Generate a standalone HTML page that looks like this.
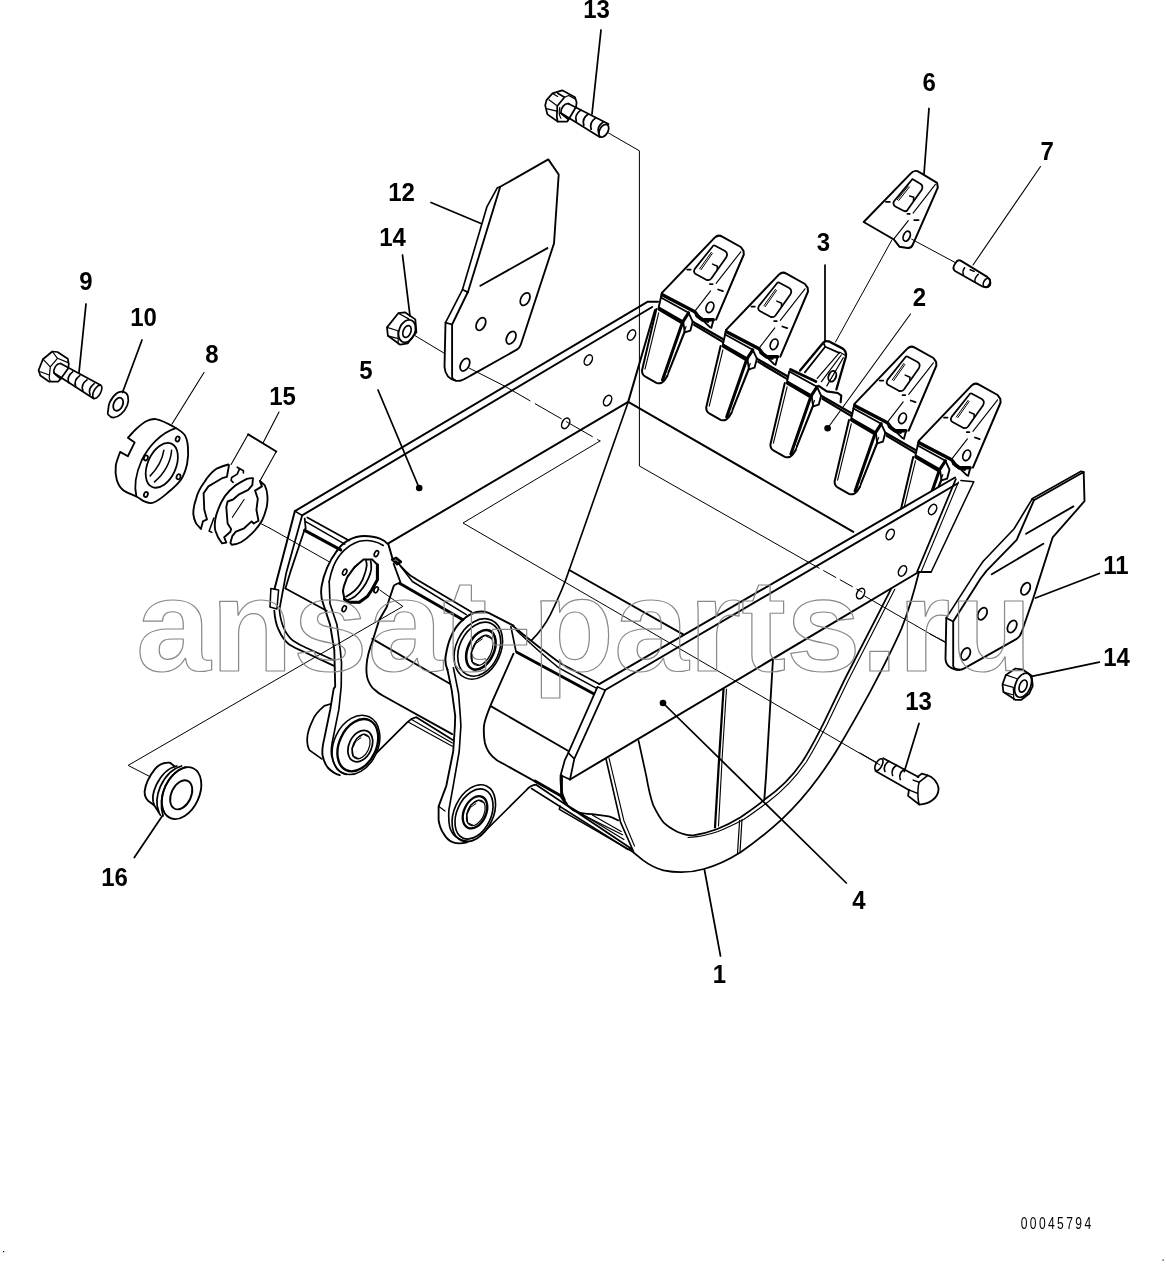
<!DOCTYPE html>
<html><head><meta charset="utf-8"><title>Bucket</title>
<style>
html,body{margin:0;padding:0;background:#fff;}
body{width:1166px;height:1264px;overflow:hidden;font-family:"Liberation Sans",sans-serif;}
svg{display:block;font-family:"Liberation Sans",sans-serif;}
</style></head><body>
<svg style="will-change:transform" width="1166" height="1264" viewBox="0 0 1166 1264" fill="none" stroke="#000" stroke-linecap="round" stroke-linejoin="round">
<rect x="0" y="0" width="1166" height="1264" fill="#fff" stroke="none"/>
<text transform="translate(596.5 18.1) scale(1 1.085)" x="0" y="0" font-size="24" font-weight="bold" text-anchor="middle" fill="#000" stroke="none">13</text>
<text transform="translate(929.1 91.2) scale(1 1.085)" x="0" y="0" font-size="24" font-weight="bold" text-anchor="middle" fill="#000" stroke="none">6</text>
<text transform="translate(1047.2 159.7) scale(1 1.085)" x="0" y="0" font-size="24" font-weight="bold" text-anchor="middle" fill="#000" stroke="none">7</text>
<text transform="translate(401.5 201.0) scale(1 1.085)" x="0" y="0" font-size="24" font-weight="bold" text-anchor="middle" fill="#000" stroke="none">12</text>
<text transform="translate(392.5 246.0) scale(1 1.085)" x="0" y="0" font-size="24" font-weight="bold" text-anchor="middle" fill="#000" stroke="none">14</text>
<text transform="translate(823.5 250.8) scale(1 1.085)" x="0" y="0" font-size="24" font-weight="bold" text-anchor="middle" fill="#000" stroke="none">3</text>
<text transform="translate(919.4 305.6) scale(1 1.085)" x="0" y="0" font-size="24" font-weight="bold" text-anchor="middle" fill="#000" stroke="none">2</text>
<text transform="translate(86.0 290.0) scale(1 1.085)" x="0" y="0" font-size="24" font-weight="bold" text-anchor="middle" fill="#000" stroke="none">9</text>
<text transform="translate(143.5 326.0) scale(1 1.085)" x="0" y="0" font-size="24" font-weight="bold" text-anchor="middle" fill="#000" stroke="none">10</text>
<text transform="translate(212.0 363.0) scale(1 1.085)" x="0" y="0" font-size="24" font-weight="bold" text-anchor="middle" fill="#000" stroke="none">8</text>
<text transform="translate(366.0 378.5) scale(1 1.085)" x="0" y="0" font-size="24" font-weight="bold" text-anchor="middle" fill="#000" stroke="none">5</text>
<text transform="translate(282.5 405.3) scale(1 1.085)" x="0" y="0" font-size="24" font-weight="bold" text-anchor="middle" fill="#000" stroke="none">15</text>
<text transform="translate(1116.0 573.5) scale(1 1.085)" x="0" y="0" font-size="24" font-weight="bold" text-anchor="middle" fill="#000" stroke="none">11</text>
<text transform="translate(1116.5 665.5) scale(1 1.085)" x="0" y="0" font-size="24" font-weight="bold" text-anchor="middle" fill="#000" stroke="none">14</text>
<text transform="translate(918.5 709.5) scale(1 1.085)" x="0" y="0" font-size="24" font-weight="bold" text-anchor="middle" fill="#000" stroke="none">13</text>
<text transform="translate(114.5 886.0) scale(1 1.085)" x="0" y="0" font-size="24" font-weight="bold" text-anchor="middle" fill="#000" stroke="none">16</text>
<text transform="translate(859.0 908.5) scale(1 1.085)" x="0" y="0" font-size="24" font-weight="bold" text-anchor="middle" fill="#000" stroke="none">4</text>
<text transform="translate(719.5 982.5) scale(1 1.085)" x="0" y="0" font-size="24" font-weight="bold" text-anchor="middle" fill="#000" stroke="none">1</text>
<text transform="translate(1020.7 1228.8) scale(0.72 1)" x="0" y="0" font-size="16.8" letter-spacing="3.3" fill="#000" stroke="none">00045794</text>
<rect x="3" y="1251" width="1.2" height="1.2" fill="#000" stroke="none"/><rect x="1162.5" y="1259.5" width="1.2" height="1.2" fill="#000" stroke="none"/>
<path d="M 545.2 105.4 L 546.5 100.2 L 552.5 93.4 L 562.2 90.3 L 575.0 97.3 L 576.6 102.2 L 576.1 106.7 L 568.6 119.5 L 567.3 121.5 L 557.7 121.5 L 547.4 114.4 Z" stroke-width="1.75" />
<path d="M 557.7 93.2 L 564.5 97.3 L 557.3 106.0 L 556.8 117.0 L 557.7 121.5" stroke-width="1.75" />
<path d="M 564.5 97.3 L 568.6 95.5 L 575.0 98.9" stroke-width="1.2" />
<path d="M 549.0 99.8 L 557.3 106.0" stroke-width="1.2" />
<path d="M 546.5 108.6 L 556.8 111.2" stroke-width="1.2" />
<path d="M 552.5 93.4 L 557.7 96.4" stroke-width="1.2" />
<path d="M 568.6 103.7 C 564.7 102.8 560.2 108.6 560.9 113.1 C 562.2 115.0 566.0 117.0 568.6 119.5" stroke-width="1.75" />
<path d="M 559.8 107.3 C 558.9 111.2 558.9 115.0 560.9 118.2" stroke-width="1.2" />
<path d="M 568.6 103.7 L 608.5 124.0" stroke-width="1.75" />
<path d="M 560.9 113.1 L 600.1 137.2" stroke-width="1.75" />
<ellipse cx="603.8" cy="130.7" rx="4.1" ry="6.9" transform="rotate(30 603.8 130.7)" stroke-width="1.75" />
<path d="M 580.8 110.1 C 575.7 113.7 575.0 117.6 576.3 121.5" stroke-width="1.75" />
<path d="M 588.3 114.0 C 583.1 117.6 582.5 121.5 583.8 125.3" stroke-width="1.75" />
<path d="M 595.7 117.9 C 590.6 121.5 589.9 125.3 591.2 129.2" stroke-width="1.75" />
<path d="M 603.2 122.0 C 598.1 125.6 597.4 129.4 598.7 133.3" stroke-width="1.75" />
<path d="M 500.2 186.8 L 548.3 159.4 L 558.7 174.5 L 554.0 243.4 L 520.9 344.3 C 520.0 347.2 519.1 348.1 517.2 349.4 L 471.9 374.9 C 464.3 379.2 460.6 381.7 455.8 380.6 C 453.0 379.8 452.1 378.3 452.1 376.4 L 452.1 324.5 L 468.1 291.5 Z" stroke-width="1.87" />
<path d="M 500.2 186.8 L 497.4 187.7 L 487.0 206.6 L 462.5 289.6 L 468.1 292.5" stroke-width="1.64" />
<path d="M 462.5 289.6 L 445.5 322.6 L 452.1 324.5" stroke-width="1.64" />
<path d="M 445.5 322.6 L 444.5 367.0 C 445.1 374.5 449.2 379.2 455.8 380.6" stroke-width="1.87" />
<path d="M 480.4 285.8 L 547.4 248.1" stroke-width="1.87" />
<ellipse cx="525.1" cy="299.1" rx="4.2" ry="6.8" transform="rotate(28 525.1 299.1)" stroke-width="1.75" />
<ellipse cx="480.9" cy="324.0" rx="4.2" ry="6.8" transform="rotate(28 480.9 324.0)" stroke-width="1.75" />
<ellipse cx="511.1" cy="337.7" rx="4.2" ry="6.8" transform="rotate(28 511.1 337.7)" stroke-width="1.75" />
<ellipse cx="464.9" cy="364.7" rx="4.2" ry="6.8" transform="rotate(28 464.9 364.7)" stroke-width="1.75" />
<path d="M 387.0 327.4 L 398.3 313.2 L 404.9 312.3 L 415.3 319.4 L 416.4 332.1 L 407.7 343.4 L 400.2 344.7 L 387.9 335.8 Z" stroke-width="1.75" />
<path d="M 398.3 313.2 L 408.7 318.9 M 387.9 335.8 L 398.3 338.7 M 387.0 327.4 L 397.9 330.8 L 398.3 344.0" stroke-width="1.2" />
<ellipse cx="407.0" cy="331.1" rx="7.9" ry="11.7" transform="rotate(22 407.0 331.1)" stroke-width="1.75" />
<ellipse cx="407.0" cy="331.5" rx="3.8" ry="6.2" transform="rotate(22 407.0 331.5)" stroke-width="1.64" />
<path d="M415.3 335.8 L444.5 353.4" stroke-width="1.0" />
<path d="M469 368 L504 385.8" stroke-width="1.0" />
<path d="M504 385.8 L600 441" stroke-width="1.0" stroke-dasharray="30 6"/>
<path d="M 863.7 222.0 L 911.1 173.1 C 913.1 170.9 916.6 170.3 919.3 172.2 L 937.1 182.9 L 937.8 187.7 L 912.8 244.7 C 911.7 247.7 910.4 248.3 907.6 248.0 L 899.4 246.7 L 893.9 239.5 Z" stroke-width="1.99" />
<path d="M 935.4 184.3 L 913.1 213.1 M 908.3 220.7 L 893.9 238.9" stroke-width="1.1" />
<path d="M 912.4 179.1 L 920.7 183.9 C 922.5 185.1 922.7 187.7 921.6 190.1 L 907.4 210.1 C 906.3 211.5 904.9 211.5 903.5 210.7 L 895.3 206.5 C 893.2 204.9 892.8 203.2 894.2 201.0 Z" stroke-width="1.75" />
<path d="M 897.3 199.7 L 908.3 186.0 M 898.7 200.5 L 909.4 187.0" stroke-width="1.0" />
<path d="M 909.7 196.0 L 913.8 197.3 L 913.4 200.5" stroke-width="1.52" />
<path d="M 886.0 201.9 L 889.8 201.9 M 907.4 213.8 L 909.8 213.8 M 914.2 220.0 L 918.6 220.0" stroke-width="1.75" />
<ellipse cx="906.7" cy="236.2" rx="3.3" ry="5.2" transform="rotate(22 906.7 236.2)" stroke-width="1.75" />
<path d="M891.9 239.9 L835.5 342" stroke-width="1.0" />
<path d="M911.7 239.2 L955.7 262.8" stroke-width="1.0" />
<path d="M 955.7 262.8 C 957.0 260.5 959.1 259.8 961.1 260.9 L 987.2 276.9 C 990.0 279.0 991.1 281.7 990.0 285.2 C 988.6 287.2 985.8 287.9 982.4 286.5 L 955.0 271.0 C 952.9 269.4 952.9 266.6 955.7 262.8 Z" stroke-width="1.87" />
<path d="M 964.6 267.7 C 962.8 270.1 962.5 272.8 963.6 275.1 M 970.1 269.7 L 974.2 271.4 M 978.3 274.2 C 975.6 276.9 974.2 279.7 975.1 282.0" stroke-width="1.52" />
<ellipse cx="986.7" cy="282.6" rx="3.0" ry="4.7" transform="rotate(30 986.7 282.6)" stroke-width="1.64" />
<path d="M 660.9 297.5 L 688.6 312.8" stroke-width="1.87" />
<path d="M 660.9 297.5 L 658.7 307.3 L 683.1 321.3 L 688.6 312.8" stroke-width="1.87" />
<path d="M 659.1 309.0 L 682.4 322.7" stroke-width="3.51" />
<path d="M 688.6 312.8 L 692.7 321.7 L 690.3 330.7 L 684.8 332.3 L 683.1 321.3" stroke-width="1.87" />
<path d="M 656.4 309.0 L 642.0 370.5 C 642.0 373.9 642.6 375.3 645.4 376.6 L 656.4 382.8 C 659.8 384.2 662.5 382.8 664.6 380.1 L 667.3 375.9" stroke-width="1.99" />
<path d="M 658.7 312.8 L 645.0 369.1" stroke-width="1.1" />
<path d="M 682.4 322.7 L 662.5 380.1" stroke-width="3.04" />
<path d="M 688.6 312.8 L 683.1 321.3 L 682.4 322.7" stroke-width="3.04" />
<path d="M 684.8 332.3 L 667.3 375.9" stroke-width="1.52" />
<path d="M 686.1 326.5 L 668.0 372.5" stroke-width="1.1" />
<path d="M 692.7 321.7 L 723.2 339.2" stroke-width="2.22" />
<path d="M 694.1 324.9 L 722.2 341.6" stroke-width="2.22" />
<path d="M 661.9 292.9 L 714.7 237.6 C 716.7 235.7 719.5 234.9 722.2 236.7 L 740.8 247.0 L 743.5 250.8 L 743.8 254.5 L 716.1 319.7" stroke-width="1.99" />
<path d="M 740.8 251.8 L 716.1 283.3 M 710.6 290.9 L 695.5 310.4" stroke-width="1.1" />
<path d="M 661.9 292.9 L 660.9 297.0" stroke-width="1.87" />
<path d="M 662.3 294.7 L 694.8 311.7 L 698.9 317.2 L 702.3 319.7 L 713.3 319.7" stroke-width="3.51" />
<path d="M 714.7 245.6 L 725.0 251.1 C 727.0 252.4 727.7 254.5 726.3 257.2 L 711.3 278.5 C 709.9 280.2 707.8 280.4 705.8 279.6 L 695.7 274.1 C 693.8 272.8 693.6 271.0 694.8 268.9 L 712.2 247.0 C 713.0 245.6 713.9 245.3 714.7 245.6 Z" stroke-width="1.75" />
<path d="M 699.6 268.9 L 711.3 252.4 M 701.0 269.7 L 712.3 253.5" stroke-width="1.0" />
<path d="M 712.6 264.1 L 717.4 266.2 L 717.2 269.2" stroke-width="1.52" />
<path d="M 687.2 269.6 L 690.7 269.6 M 709.9 284.0 L 712.6 284.0 M 718.1 289.5 L 722.9 291.1" stroke-width="1.75" />
<ellipse cx="709.9" cy="307.3" rx="3.6" ry="5.5" transform="rotate(22 709.9 307.3)" stroke-width="1.75" />
<path d="M 713.3 320.4 L 711.3 327.9 M 703.7 321.1 L 709.9 327.2" stroke-width="1.87" />
<path d="M 696.8 315.6 L 702.3 319.7 L 707.8 321.1" stroke-width="3.51" />
<path d="M 725.1 334.5 L 752.8 349.8" stroke-width="1.87" />
<path d="M 725.1 334.5 L 722.9 344.3 L 747.3 358.3 L 752.8 349.8" stroke-width="1.87" />
<path d="M 723.3 346.0 L 746.6 359.7" stroke-width="3.51" />
<path d="M 752.8 349.8 L 756.9 358.7 L 754.5 367.7 L 749.0 369.3 L 747.3 358.3" stroke-width="1.87" />
<path d="M 720.6 346.0 L 706.2 407.5 C 706.2 410.9 706.8 412.3 709.6 413.6 L 720.6 419.8 C 724.0 421.2 726.7 419.8 728.8 417.1 L 731.5 412.9" stroke-width="1.99" />
<path d="M 722.9 349.8 L 709.2 406.1" stroke-width="1.1" />
<path d="M 746.6 359.7 L 726.7 417.1" stroke-width="3.04" />
<path d="M 752.8 349.8 L 747.3 358.3 L 746.6 359.7" stroke-width="3.04" />
<path d="M 749.0 369.3 L 731.5 412.9" stroke-width="1.52" />
<path d="M 750.3 363.5 L 732.2 409.5" stroke-width="1.1" />
<path d="M 756.9 358.7 L 787.4 376.2" stroke-width="2.22" />
<path d="M 758.3 361.9 L 786.4 378.6" stroke-width="2.22" />
<path d="M 726.1 329.9 L 778.9 274.6 C 780.9 272.7 783.7 271.9 786.4 273.7 L 805.0 284.0 L 807.7 287.8 L 808.0 291.5 L 780.3 356.7" stroke-width="1.99" />
<path d="M 805.0 288.8 L 780.3 320.3 M 774.8 327.9 L 759.7 347.4" stroke-width="1.1" />
<path d="M 726.1 329.9 L 725.1 334.0" stroke-width="1.87" />
<path d="M 726.5 331.7 L 759.0 348.7 L 763.1 354.2 L 766.5 356.7 L 777.5 356.7" stroke-width="3.51" />
<path d="M 778.9 282.6 L 789.2 288.1 C 791.2 289.4 791.9 291.5 790.5 294.2 L 775.5 315.5 C 774.1 317.2 772.0 317.4 770.0 316.6 L 759.9 311.1 C 758.0 309.8 757.8 308.0 759.0 305.9 L 776.4 284.0 C 777.2 282.6 778.1 282.3 778.9 282.6 Z" stroke-width="1.75" />
<path d="M 763.8 305.9 L 775.5 289.4 M 765.2 306.7 L 776.5 290.5" stroke-width="1.0" />
<path d="M 776.8 301.1 L 781.6 303.2 L 781.4 306.2" stroke-width="1.52" />
<path d="M 751.4 306.6 L 754.9 306.6 M 774.1 321.0 L 776.8 321.0 M 782.3 326.5 L 787.1 328.1" stroke-width="1.75" />
<ellipse cx="774.1" cy="344.3" rx="3.6" ry="5.5" transform="rotate(22 774.1 344.3)" stroke-width="1.75" />
<path d="M 777.5 357.4 L 775.5 364.9 M 767.9 358.1 L 774.1 364.2" stroke-width="1.87" />
<path d="M 761.0 352.6 L 766.5 356.7 L 772.0 358.1" stroke-width="3.51" />
<path d="M 789.3 371.5 L 817.0 386.8" stroke-width="1.87" />
<path d="M 789.3 371.5 L 787.1 381.3 L 811.5 395.3 L 817.0 386.8" stroke-width="1.87" />
<path d="M 787.5 383.0 L 810.8 396.7" stroke-width="3.51" />
<path d="M 817.0 386.8 L 821.1 395.7 L 818.7 404.7 L 813.2 406.3 L 811.5 395.3" stroke-width="1.87" />
<path d="M 784.8 383.0 L 770.4 444.5 C 770.4 447.9 771.0 449.3 773.8 450.6 L 784.8 456.8 C 788.2 458.2 790.9 456.8 793.0 454.1 L 795.7 449.9" stroke-width="1.99" />
<path d="M 787.1 386.8 L 773.4 443.1" stroke-width="1.1" />
<path d="M 810.8 396.7 L 790.9 454.1" stroke-width="3.04" />
<path d="M 817.0 386.8 L 811.5 395.3 L 810.8 396.7" stroke-width="3.04" />
<path d="M 813.2 406.3 L 795.7 449.9" stroke-width="1.52" />
<path d="M 814.5 400.5 L 796.4 446.5" stroke-width="1.1" />
<path d="M 821.1 395.7 L 851.6 413.2" stroke-width="2.22" />
<path d="M 822.5 398.9 L 850.6 415.6" stroke-width="2.22" />
<path d="M 853.5 408.5 L 881.2 423.8" stroke-width="1.87" />
<path d="M 853.5 408.5 L 851.3 418.3 L 875.7 432.3 L 881.2 423.8" stroke-width="1.87" />
<path d="M 851.7 420.0 L 875.0 433.7" stroke-width="3.51" />
<path d="M 881.2 423.8 L 885.3 432.7 L 882.9 441.7 L 877.4 443.3 L 875.7 432.3" stroke-width="1.87" />
<path d="M 849.0 420.0 L 834.6 481.5 C 834.6 484.9 835.2 486.3 838.0 487.6 L 849.0 493.8 C 852.4 495.2 855.1 493.8 857.2 491.1 L 859.9 486.9" stroke-width="1.99" />
<path d="M 851.3 423.8 L 837.6 480.1" stroke-width="1.1" />
<path d="M 875.0 433.7 L 855.1 491.1" stroke-width="3.04" />
<path d="M 881.2 423.8 L 875.7 432.3 L 875.0 433.7" stroke-width="3.04" />
<path d="M 877.4 443.3 L 859.9 486.9" stroke-width="1.52" />
<path d="M 878.7 437.5 L 860.6 483.5" stroke-width="1.1" />
<path d="M 885.3 432.7 L 915.8 450.2" stroke-width="2.22" />
<path d="M 886.7 435.9 L 914.8 452.6" stroke-width="2.22" />
<path d="M 854.5 403.9 L 907.3 348.6 C 909.3 346.7 912.1 345.9 914.8 347.7 L 933.4 358.0 L 936.1 361.8 L 936.4 365.5 L 908.7 430.7" stroke-width="1.99" />
<path d="M 933.4 362.8 L 908.7 394.3 M 903.2 401.9 L 888.1 421.4" stroke-width="1.1" />
<path d="M 854.5 403.9 L 853.5 408.0" stroke-width="1.87" />
<path d="M 854.9 405.7 L 887.4 422.7 L 891.5 428.2 L 894.9 430.7 L 905.9 430.7" stroke-width="3.51" />
<path d="M 907.3 356.6 L 917.6 362.1 C 919.6 363.4 920.3 365.5 918.9 368.2 L 903.9 389.5 C 902.5 391.2 900.4 391.4 898.4 390.6 L 888.3 385.1 C 886.4 383.8 886.2 382.0 887.4 379.9 L 904.8 358.0 C 905.6 356.6 906.5 356.3 907.3 356.6 Z" stroke-width="1.75" />
<path d="M 892.2 379.9 L 903.9 363.4 M 893.6 380.7 L 904.9 364.5" stroke-width="1.0" />
<path d="M 905.2 375.1 L 910.0 377.2 L 909.8 380.2" stroke-width="1.52" />
<path d="M 879.8 380.6 L 883.3 380.6 M 902.5 395.0 L 905.2 395.0 M 910.7 400.5 L 915.5 402.1" stroke-width="1.75" />
<ellipse cx="902.5" cy="418.3" rx="3.6" ry="5.5" transform="rotate(22 902.5 418.3)" stroke-width="1.75" />
<path d="M 905.9 431.4 L 903.9 438.9 M 896.3 432.1 L 902.5 438.2" stroke-width="1.87" />
<path d="M 889.4 426.6 L 894.9 430.7 L 900.4 432.1" stroke-width="3.51" />
<path d="M 917.7 445.5 L 945.4 460.8" stroke-width="1.87" />
<path d="M 917.7 445.5 L 915.5 455.3 L 939.9 469.3 L 945.4 460.8" stroke-width="1.87" />
<path d="M 915.9 457.0 L 939.2 470.7" stroke-width="3.51" />
<path d="M 945.4 460.8 L 949.5 469.7 L 947.1 478.7 L 941.6 480.3 L 939.9 469.3" stroke-width="1.87" />
<path d="M 913.2 457.0 L 898.8 518.5 C 898.8 521.9 899.4 523.3 902.2 524.6 L 913.2 530.8 C 916.6 532.2 919.3 530.8 921.4 528.1 L 924.1 523.9" stroke-width="1.99" />
<path d="M 915.5 460.8 L 901.8 517.1" stroke-width="1.1" />
<path d="M 939.2 470.7 L 919.3 528.1" stroke-width="3.04" />
<path d="M 945.4 460.8 L 939.9 469.3 L 939.2 470.7" stroke-width="3.04" />
<path d="M 941.6 480.3 L 924.1 523.9" stroke-width="1.52" />
<path d="M 942.9 474.5 L 924.8 520.5" stroke-width="1.1" />
<path d="M 918.7 440.9 L 971.5 385.6 C 973.5 383.7 976.3 382.9 979.0 384.7 L 997.6 395.0 L 1000.3 398.8 L 1000.6 402.5 L 972.9 467.7" stroke-width="1.99" />
<path d="M 997.6 399.8 L 972.9 431.3 M 967.4 438.9 L 952.3 458.4" stroke-width="1.1" />
<path d="M 918.7 440.9 L 917.7 445.0" stroke-width="1.87" />
<path d="M 919.1 442.7 L 951.6 459.7 L 955.7 465.2 L 959.1 467.7 L 970.1 467.7" stroke-width="3.51" />
<path d="M 971.5 393.6 L 981.8 399.1 C 983.8 400.4 984.5 402.5 983.1 405.2 L 968.1 426.5 C 966.7 428.2 964.6 428.4 962.6 427.6 L 952.5 422.1 C 950.6 420.8 950.4 419.0 951.6 416.9 L 969.0 395.0 C 969.8 393.6 970.7 393.3 971.5 393.6 Z" stroke-width="1.75" />
<path d="M 956.4 416.9 L 968.1 400.4 M 957.8 417.7 L 969.1 401.5" stroke-width="1.0" />
<path d="M 969.4 412.1 L 974.2 414.2 L 974.0 417.2" stroke-width="1.52" />
<path d="M 944.0 417.6 L 947.5 417.6 M 966.7 432.0 L 969.4 432.0 M 974.9 437.5 L 979.7 439.1" stroke-width="1.75" />
<ellipse cx="966.7" cy="455.3" rx="3.6" ry="5.5" transform="rotate(22 966.7 455.3)" stroke-width="1.75" />
<path d="M 970.1 468.4 L 968.1 475.9 M 960.5 469.1 L 966.7 475.2" stroke-width="1.87" />
<path d="M 953.6 463.6 L 959.1 467.7 L 964.6 469.1" stroke-width="3.51" />
<path d="M 800.1 370.5 L 823.4 342.6 C 824.8 340.9 826.8 340.6 829.6 341.7 L 841.9 348.1 C 845.4 350.2 846.7 352.9 845.8 357.0 L 836.4 389.3" stroke-width="2.34" />
<path d="M 804.9 372.4 L 825.2 346.8 L 839.2 352.9 M 825.2 346.8 L 823.4 342.6" stroke-width="1.75" />
<path d="M 817.2 378.3 L 839.9 352.2 L 844.7 355.0 M 826.8 385.9 L 843.3 357.7 M 821.4 381.7 L 841.3 355.0" stroke-width="1.2" />
<ellipse cx="832.3" cy="376.3" rx="3.7" ry="5.5" transform="rotate(22 832.3 376.3)" stroke-width="1.87" />
<path d="M 790.5 369.4 L 815.9 381.5" stroke-width="2.81" />
<path d="M 818.6 385.9 L 826.8 391.4 L 837.8 393.0 L 841.3 395.7 L 840.6 402.3" stroke-width="2.11" />
<path d="M294.9 511.1 L647.4 301.8 L658 301.8" stroke-width="1.99" />
<path d="M302.1 515.4 L652.2 307" stroke-width="1.99" />
<path d="M294.9 511.1 L302.1 515.4" stroke-width="1.64" />
<path d="M655 310 L628.2 401.9" stroke-width="1.99" />
<path d="M628.2 401.9 L388.3 543.4" stroke-width="1.99" />
<ellipse cx="631.5" cy="335.0" rx="3.6" ry="5.6" transform="rotate(28 631.5 335.0)" stroke-width="1.52"/>
<ellipse cx="588.3" cy="360.0" rx="3.6" ry="5.6" transform="rotate(28 588.3 360.0)" stroke-width="1.52"/>
<ellipse cx="607.6" cy="400.6" rx="3.6" ry="5.6" transform="rotate(28 607.6 400.6)" stroke-width="1.52"/>
<ellipse cx="565.7" cy="423.3" rx="3.6" ry="5.6" transform="rotate(28 565.7 423.3)" stroke-width="1.52"/>
<path d="M628.2 401.9 L853.3 531.8" stroke-width="1.99" />
<path d="M628.2 401.9 L569.2 570 C566 580 560 595 550.4 614.6 C545 625 538 634 531.5 640.3" stroke-width="1.64" />
<path d="M569.2 570 L683.5 634.7" stroke-width="1.99" />
<path d="M599.2 684.1 L955 477.5 L973.8 481.7 L931.3 571.7 L918.7 572 L570 779.5 L560.6 775.2 L568.3 752.9 Z" stroke-width="0" fill="#fff" stroke="none"/>
<path d="M599.2 684.1 L955 477.5" stroke-width="1.99" />
<path d="M605.2 690 L957.5 483.5" stroke-width="1.99" />
<path d="M570 779.5 L918.7 572 L931 572" stroke-width="1.99" />
<path d="M597.5 686.9 L568.3 752.9 L564.9 759.8 L560.6 775.2 C560 785 562 794 564.9 800" stroke-width="1.75" />
<path d="M605.2 690.3 L574.3 758.9 L570 779.5" stroke-width="1.75" />
<path d="M597.5 686.9 L605.2 690.3 M568.3 752.9 L574.3 758.9 M560.6 775.2 L570 779.5" stroke-width="1.52" />
<path d="M955.8 479.1 L917.2 571.7" stroke-width="1.75" />
<path d="M958.5 482 L921 572" stroke-width="1.1" />
<path d="M960.9 480.4 L973.8 481.7 L931.3 571.7" stroke-width="1.52" />
<ellipse cx="932.6" cy="509.5" rx="3.6" ry="5.6" transform="rotate(28 932.6 509.5)" stroke-width="1.52"/>
<ellipse cx="890.2" cy="534.4" rx="3.6" ry="5.6" transform="rotate(28 890.2 534.4)" stroke-width="1.52"/>
<ellipse cx="902.5" cy="570.9" rx="3.6" ry="5.6" transform="rotate(28 902.5 570.9)" stroke-width="1.52"/>
<ellipse cx="860.6" cy="593.6" rx="3.6" ry="5.6" transform="rotate(28 860.6 593.6)" stroke-width="1.52"/>
<path d="M864.6 596 L946 643" stroke-width="1.0" />
<path d="M919 572 C912 600 905 620 901.5 628.6 C890 655 878 677 867.2 697.2 C858 714 849 730 839.8 745.2 C833 757 826 767 819.2 776.6 C808 792 795 807 781.8 819.4 C768 832 754 843 740.6 852.3 C730 859 715 866 704 869 C690 873 676 873 663.5 870.4 C655 868 648 864 642.9 860.1 L629.2 849" stroke-width="1.75" />
<path d="M891 589.2 L844.4 680 C838 693 830 710 822.9 724.7 C816 738 810 750 802.3 761.8 C792 777 780 789 764.3 799.8 C757 806 748 812 740.6 817.3 C733 822 725 826 716.7 829.2 C709 832 702 834 694.4 835.2 C688 836 682 834 677.2 831.8 C672 829 667 826 663.5 822.4 C659 817 656 811 653.2 805.2 C650 796 648 786 646.3 776.1 L638.6 740.9" stroke-width="1.75" />
<path d="M894.8 589.2 L848.4 680 C842 693 834 710 826.9 724.7 C820 738 814 750 806.3 762 C796 777 784 790 768 802 C760 808 752 814 743.6 819.5 C735 824 728 827.5 718 831.5 C708 835 700 837 688 837.5" stroke-width="1.1" />
<path d="M606 758.9 L620.6 822.4 L633.5 851.5" stroke-width="1.64" />
<path d="M609 758 L624 821 L634.5 846" stroke-width="1.1" />
<path d="M723.5 689.4 L719.2 757.2 L715 827.5" stroke-width="2.22" />
<path d="M726.5 689 L722.2 757 L718.5 826" stroke-width="1.1" />
<path d="M772.9 660.3 L766 776.6 L764.3 799.8" stroke-width="1.87" />
<path d="M739.6 820.4 L737.5 853.4 M742 819.5 L740 852" stroke-width="1.2" />
<path d="M536.1 784.7 L632.1 849.2" stroke-width="1.75" />
<path d="M531.5 788.5 L628 849.5" stroke-width="1.52" />
<path d="M560.1 806 L559.4 809.4 L630.8 850.6" stroke-width="1.64" />
<path d="M567.6 805.3 L623.9 839.6" stroke-width="1.2" />
<path d="M577.2 812.1 L622.5 834.8" stroke-width="1.2" />
<path d="M592.3 814.9 L621.2 831.4" stroke-width="1.2" />
<path d="M561.5 775.8 L561.5 797 L566.3 803.9" stroke-width="2.81" />
<path d="M566.3 803.9 C569 807 572 810 575.9 811.5 C581 813.5 587 814 592.3 814.2 L608.8 816.3 C612 817 615 818.5 618.4 820.4" stroke-width="1.75" />
<path d="M294.9 511.1 L274.5 589" stroke-width="1.99" />
<path d="M302.1 515.4 L286.2 572.9 L279.5 609" stroke-width="1.75" />
<path d="M304.7 529.3 L290.1 572.9 L285.4 588.4" stroke-width="1.75" />
<path d="M270.9 588.4 L278.6 590 L276.9 609 L270 607 Z" stroke-width="1.52" />
<path d="M 274.3 610.8 C 274.8 617.6 276.0 624.5 278.6 629.7 C 281.2 635.7 284.6 640.8 288.9 644.3 C 294.0 647.7 299.2 649.9 304.3 652.0 L 333.5 665.7" stroke-width="1.87" />
<path d="M 279.4 609.9 C 280.0 615.9 281.2 621.9 283.4 627.1 C 285.8 633.1 288.9 637.4 293.2 640.8 C 297.5 643.7 301.8 646.0 306.1 647.7 L 334.4 660.6" stroke-width="1.64" />
<path d="M 285.5 588.5 L 326.7 610.8" stroke-width="1.75" />
<path d="M307.3 517.5 L349 540.6" stroke-width="1.75" />
<path d="M305.7 521.6 L344.8 544.2" stroke-width="1.52" />
<path d="M304.7 530.3 L340.7 549.9" stroke-width="3.04" />
<path d="M304.7 518.5 L305.7 528.8" stroke-width="1.75" />
<path d="M 337.0 550.7 C 340.4 545.5 343.8 543.0 348.1 540.4 C 354.1 537.3 359.3 536.1 364.4 536.1 C 371.3 536.1 376.4 537.3 379.9 538.7 C 384.2 540.4 386.7 542.4 388.5 544.7 L 392.7 559.3" stroke-width="1.99" />
<path d="M 329.2 581.6 C 330.4 574.7 331.8 570.4 333.5 566.1 C 336.1 560.1 339.5 555.0 343.8 550.7 C 349.0 545.5 354.1 543.0 359.3 541.2 C 365.3 540.0 369.6 540.4 373.0 541.2 C 377.3 542.1 380.7 543.8 383.3 545.5" stroke-width="1.64" />
<path d="M 392.2 559.6 L 396.2 557.9 L 400.8 561.8 L 397.0 564.1 Z" stroke-width="2.57" />
<path d="M 393.6 563.6 L 400.5 582.4" stroke-width="1.75" />
<path d="M337 550.6 C330 560 324 572 321.5 586.6 C320.5 595 321.5 600 323.2 603.8 L330 624.4 L334.3 650 L335.2 686.6 L333.7 688.6 L330.3 709.2 L324.3 738.4 C322 748 322 752 322.6 755.5 C323.5 760 325 764 327.7 767.5 C331 771 335 774 339.7 775.2" stroke-width="1.87" />
<path d="M329.2 581.5 L330 603.8 L336.9 624.4 L340.3 650.1 L341.5 662.9 L341.2 686.6 L338.9 709.2 L332 743.5 C331 750 331 754 332 757.2 C333 762 335 766 337.2 769.2 C340 772 343 774 346.6 774.4" stroke-width="1.64" />
<path d="M399.5 583.2 C396 584 394 585 393.5 586.6 L386.6 607.2 L379.2 620 L372.9 639.8 C369 650 367 658 366.6 664.6 C366 672 366.5 676 368 680 C370 685 372 688 375 690 C377 692 380 694 382.6 695.5 L452.1 734.1" stroke-width="1.87" />
<path d="M396 561 L405.5 571.2 C409 575 412 577 415.8 578.9 L471.5 612" stroke-width="1.75" />
<path d="M400.4 566 L412.4 581.5 L466.3 614.6" stroke-width="1.52" />
<path d="M399.5 583.2 L462.9 619.7" stroke-width="2.92" />
<path d="M372.3 638.9 L449.5 683.5" stroke-width="1.87" />
<path d="M 363.5 559.6 L 372.3 559.6 L 377.4 564.8 L 377.4 579.7 L 371.7 590.0 L 367.6 596.2 L 359.4 602.3 L 349.1 602.3 L 344.5 599.2 L 342.9 591.0 L 344.0 585.9 L 347.0 577.6 L 354.3 567.3 Z" stroke-width="1.99" />
<path d="M 344.5 599.2 L 349.1 602.3 L 359.4 602.3 L 367.6 596.2 L 371.7 590.0 L 377.4 579.7 L 377.4 564.8" stroke-width="3.04" />
<path d="M 366.1 560.7 C 366.8 563.2 366.8 564.8 366.6 566.3 C 366.1 569.4 365.6 572.0 364.5 574.5 C 363.5 578.1 362.0 581.2 360.4 583.8 C 358.4 586.9 356.3 589.2 354.3 591.0 C 351.2 593.6 348.6 595.3 346.0 596.7" stroke-width="1.75" />
<path d="M 370.7 561.2 C 371.4 564.3 371.4 566.8 371.2 569.4 C 370.7 572.5 369.9 575.1 368.7 577.6 C 367.1 581.2 365.6 584.3 363.5 586.9 C 360.9 590.5 358.4 593.6 355.3 596.2 C 352.7 598.0 350.3 599.2 348.1 599.8" stroke-width="1.75" />
<path d="M 347.6 575.6 L 359.4 563.2" stroke-width="1.0" />
<ellipse cx="376.4" cy="553.6" rx="1.9" ry="3.1" transform="rotate(25 376.4 553.6)" stroke-width="1.64" />
<ellipse cx="344.7" cy="572.1" rx="1.9" ry="3.1" transform="rotate(25 344.7 572.1)" stroke-width="1.64" />
<ellipse cx="376.1" cy="589.8" rx="1.9" ry="3.1" transform="rotate(25 376.1 589.8)" stroke-width="1.64" />
<ellipse cx="344.2" cy="608.7" rx="1.9" ry="3.1" transform="rotate(25 344.2 608.7)" stroke-width="1.64" />
<path d="M270 528.3 L329.2 561.8" stroke-width="1.0" />
<path d="M379.8 590 L402.9 606.4 L128.1 765.4 L150.1 776.7" stroke-width="1.0" />
<ellipse cx="356.0" cy="744.9" rx="22.0" ry="31.0" transform="rotate(25 356.0 744.9)" stroke-width="1.52"/>
<ellipse cx="357.8" cy="745.2" rx="18.5" ry="27.5" transform="rotate(25 357.8 745.2)" stroke-width="2.34"/>
<ellipse cx="360.3" cy="746.1" rx="11.3" ry="16.5" transform="rotate(25 360.3 746.1)" stroke-width="1.75"/>
<ellipse cx="361.0" cy="746.5" rx="8.0" ry="13.0" transform="rotate(25 361.0 746.5)" stroke-width="1.2"/>
<path d="M330.3 704 L324.3 705.8 C318 711 314 716 312.3 721.2 C309 728 307.5 733 307.2 738.4 C307 744 308 748 309.7 750.4 L321.7 758.9" stroke-width="1.75" />
<path d="M376.6 752.9 L407.5 722.1 C410 719.5 413 718 416.3 717.2 L453.2 740.3" stroke-width="1.75" />
<path d="M412 719.7 L452.3 742.9" stroke-width="1.2" />
<path d="M408.6 722.3 L452.3 746.3" stroke-width="1.2" />
<path d="M447.4 669.5 C445 664 445 660 445.7 655.8 C447 648 448.5 642 450.9 636.9 C454 629 458 624 462.9 619.7 C467 616 471 613.5 476.6 612 C481 611 485 611.5 488.6 612.9 L513.5 625.7" stroke-width="1.99" />
<path d="M447.4 669.5 L451.7 690.1 L455.2 715.8 L454.9 725.7 L453.2 751.5 L446.3 785.8 L438.6 806.3 L438.6 820.1 C439.5 826 441 830 443.7 833.8 C446 838 449 841 453.2 842.4 C458 844 462 843.5 466.9 842.4" stroke-width="1.87" />
<path d="M453.4 667.8 L458.6 693.5 L460.3 715.8 L460.9 725.7 L459.2 751.5 L453.2 785.8 L448.9 809.8 C448.5 816 448.7 822 449.7 826.9 C451 831 453 835 456.6 837.2 C460 840 464 841 468.6 841.5" stroke-width="1.64" />
<path d="M438.6 806.3 L445 811" stroke-width="1.2" />
<ellipse cx="478.3" cy="648.9" rx="22.3" ry="31.7" transform="rotate(25 478.3 648.9)" stroke-width="1.64"/>
<ellipse cx="479.2" cy="649.2" rx="19.7" ry="28.3" transform="rotate(25 479.2 649.2)" stroke-width="1.64"/>
<ellipse cx="480.9" cy="649.8" rx="13.0" ry="21.0" transform="rotate(25 480.9 649.8)" stroke-width="2.57"/>
<ellipse cx="482.0" cy="650.3" rx="9.5" ry="16.0" transform="rotate(25 482.0 650.3)" stroke-width="1.2"/>
<ellipse cx="473.8" cy="813.2" rx="19.5" ry="30.0" transform="rotate(25 473.8 813.2)" stroke-width="1.64"/>
<ellipse cx="474.0" cy="814.0" rx="17.0" ry="26.5" transform="rotate(25 474.0 814.0)" stroke-width="1.64"/>
<ellipse cx="475.0" cy="812.3" rx="11.0" ry="17.0" transform="rotate(25 475.0 812.3)" stroke-width="2.34"/>
<ellipse cx="475.8" cy="812.8" rx="8.3" ry="13.5" transform="rotate(25 475.8 812.8)" stroke-width="1.2"/>
<path d="M513.5 653.7 L491.2 703.8 C487 714 484.5 720 484 725.7 C483.5 732 484 738 484.9 742.9 C486.5 749 489 753 492.6 756.6 C496 760 499 762 502.9 763.5 L561.2 796" stroke-width="1.87" />
<path d="M535 781 L561.2 796" stroke-width="2.81" />
<path d="M491.2 706.4 L568.4 751" stroke-width="1.87" />
<path d="M480.6 835.5 L526 790.5 C529 787 532 785 536.1 784.7" stroke-width="1.75" />
<path d="M512.6 625.7 C530 640 545 652 560.7 663.5 L599.2 684.1" stroke-width="1.75" />
<path d="M516 630 C532 645 545 657 558.9 667.8 L596.7 688.4" stroke-width="1.52" />
<path d="M516.9 652.3 L593.2 693.5" stroke-width="2.92" />
<path d="M510.9 626.6 L516 651.5" stroke-width="1.64" />
<path d="M 38.6 370.3 L 42.9 359.2 L 52.3 351.5 L 57.5 352.0 L 67.8 358.8 L 68.8 364.3 L 68.1 368.6 L 60.6 378.9 L 58.3 381.5 L 48.9 381.5 L 40.3 375.5 Z" stroke-width="1.75" />
<path d="M 52.3 351.5 L 57.5 358.3 L 50.3 366.9 L 49.2 378.1 L 50.3 381.2 M 57.5 358.3 L 68.1 362.6 M 42.9 359.2 L 50.3 366.9 M 38.9 371.2 L 49.2 375.0" stroke-width="1.2" />
<path d="M 60.6 363.5 C 56.6 363.0 53.2 368.6 54.0 372.9 C 55.4 375.0 58.3 377.2 60.6 378.9" stroke-width="1.64" />
<path d="M 60.6 363.5 L 100.4 384.9" stroke-width="1.75" />
<path d="M 54.0 372.9 L 93.9 398.7" stroke-width="1.75" />
<ellipse cx="97.3" cy="391.8" rx="3.4" ry="7.4" transform="rotate(28 97.3 391.8)" stroke-width="1.64" />
<path d="M 72.9 371.7 C 68.1 375.2 67.4 378.9 68.8 382.7" stroke-width="1.64" />
<path d="M 79.8 375.7 C 75.0 379.1 74.3 382.9 75.7 386.7" stroke-width="1.64" />
<path d="M 87.0 379.8 C 82.2 383.2 81.5 387.0 82.9 390.8" stroke-width="1.64" />
<path d="M 94.2 383.7 C 89.4 387.2 88.7 390.9 90.1 394.7" stroke-width="1.64" />
<path d="M 108.1 410.7 C 108.4 408.6 108.4 405.0 109.8 402.1 C 111.3 399.2 114.4 394.9 116.7 393.2 C 119.0 391.5 121.7 391.3 123.6 391.8 C 125.4 392.3 127.3 393.8 127.9 396.1 C 128.5 398.4 128.3 402.5 127.2 405.5 C 126.0 408.5 123.3 412.1 121.0 414.1 C 118.7 416.1 115.4 417.5 113.3 417.6 C 111.1 417.6 109.0 415.6 108.1 414.5 C 107.3 413.3 107.8 412.7 108.1 410.7 Z" stroke-width="1.75" />
<ellipse cx="118.2" cy="404.2" rx="4.5" ry="6.9" transform="rotate(25 118.2 404.2)" stroke-width="1.75" />
<path d="M 127.9 437.8 C 129.3 436.3 133.3 431.5 136.4 428.7 C 139.6 425.9 143.3 422.6 146.7 421.0 C 150.2 419.4 152.7 418.4 157.0 419.3 C 161.3 420.1 167.9 423.6 172.5 426.1 C 177.1 428.7 181.9 431.3 184.5 434.7 C 187.1 438.2 187.5 441.9 187.9 446.7 C 188.4 451.6 188.2 458.5 187.1 463.9 C 185.9 469.4 184.4 474.5 181.1 479.4 C 177.8 484.2 171.9 489.2 167.3 493.1 C 162.8 497.0 157.3 501.1 153.6 502.5 C 149.9 504.0 147.9 502.7 145.0 501.7 C 142.2 500.7 140.2 498.5 136.4 496.5 C 132.7 494.5 126.0 492.5 122.7 489.7 C 119.4 486.8 117.8 483.4 116.7 479.4 C 115.5 475.4 115.3 470.2 115.8 465.6 C 116.4 461.0 119.4 454.2 120.1 451.9 L 127.9 456.2 L 134.7 442.4 Z" stroke-width="1.87" />
<path d="M 175.9 428.2 C 160.5 433.0 148.5 446.7 141.6 460.5 C 135.6 474.2 133.9 486.2 136.4 496.5" stroke-width="1.75" />
<ellipse cx="161.8" cy="465.3" rx="14.1" ry="23.7" transform="rotate(24 161.8 465.3)" stroke-width="1.75" />
<path d="M 163.9 450.2 C 162.2 460.5 157.0 469.1 150.2 475.9 M 171.6 450.2 C 170.8 462.2 163.9 474.2 154.5 481.9" stroke-width="1.52" />
<ellipse cx="177.6" cy="439.0" rx="1.9" ry="2.6" transform="rotate(20 177.6 439.0)" stroke-width="1.75" />
<ellipse cx="145.9" cy="457.9" rx="1.9" ry="2.6" transform="rotate(20 145.9 457.9)" stroke-width="1.75" />
<ellipse cx="178.5" cy="476.8" rx="1.9" ry="2.6" transform="rotate(20 178.5 476.8)" stroke-width="1.75" />
<ellipse cx="145.9" cy="494.5" rx="1.9" ry="2.6" transform="rotate(20 145.9 494.5)" stroke-width="1.75" />
<path d="M 248.2 434.3 L 276.3 451.5" stroke-width="1.99" />
<path d="M 248.2 434.3 L 231.1 464.5 M 276.3 451.5 L 259.9 481.0" stroke-width="1.1" />
<path d="M 228.3 464.5 C 223.5 465.6 220.1 467.0 216.7 468.6 C 211.9 472.0 207.7 476.8 204.3 482.3 C 200.2 487.8 197.4 493.3 196.1 498.8 C 194.0 504.3 193.3 509.1 193.3 513.9 C 193.6 518.0 194.7 520.8 196.1 523.5 L 200.9 529.0 L 202.9 521.4 L 207.0 519.4 L 204.3 509.8 L 203.6 493.3 L 208.4 486.4 L 215.3 482.3 L 222.1 478.2 L 226.9 476.8 L 229.0 465.2 Z" stroke-width="1.87" />
<path d="M 253.0 478.2 C 250.3 477.9 248.2 478.5 246.8 478.9 C 242.7 481.0 239.3 483.0 235.9 485.1 C 231.7 488.5 228.3 491.9 224.9 496.1 C 222.1 500.2 219.7 505.0 218.0 509.8 C 216.4 513.9 215.6 516.6 215.3 519.4 C 214.6 523.5 214.6 526.9 215.3 530.4 C 216.7 535.2 219.4 540.0 222.1 543.4 L 226.3 542.7 L 224.2 537.2 L 230.4 531.7 L 231.1 529.0 L 227.6 523.5 L 226.3 507.0 L 227.6 501.5 L 233.1 499.5 L 238.6 494.7 L 248.2 489.9 L 252.3 485.1 Z" stroke-width="1.87" />
<path d="M 213.9 518.0 L 209.1 531.0 L 211.9 532.4" stroke-width="1.52" />
<path d="M 259.9 481.0 L 264.7 485.1 C 266.7 489.2 267.4 492.6 267.4 496.1 C 267.7 500.2 267.4 503.6 266.7 507.0 C 265.4 512.5 264.0 516.6 261.9 520.8 C 259.2 525.6 255.8 529.7 252.3 533.1 C 248.9 536.5 245.2 539.7 241.4 542.0 C 237.9 543.8 234.5 544.8 231.7 544.8 L 230.4 542.7 L 232.4 535.8 L 235.9 531.7 L 244.1 528.3 L 251.6 521.4 L 253.7 523.5 L 258.5 520.8 L 256.4 509.8 L 257.8 498.8 L 255.1 490.6 L 261.9 486.4 Z" stroke-width="1.87" />
<path d="M 237.2 467.2 L 243.4 470.7 L 243.4 473.0 M 239.3 469.3 L 237.2 474.1 L 231.7 477.5 L 231.1 480.3 L 233.1 482.3" stroke-width="1.64" />
<path d="M 244.1 499.5 L 232.4 517.3" stroke-width="1.1" />
<path d="M260.6 523.5 L270 528.3" stroke-width="1.0" />
<ellipse cx="181.6" cy="793.1" rx="17.6" ry="27.4" transform="rotate(25 181.6 793.1)" stroke-width="1.87" />
<ellipse cx="181.2" cy="794.8" rx="9.9" ry="15.4" transform="rotate(25 181.2 794.8)" stroke-width="1.87" />
<path d="M 174.8 766.4 L 170.0 762.7 C 164.5 762.2 159.0 764.3 154.9 769.1 C 149.4 776.0 145.3 784.9 144.6 791.7 C 144.6 795.9 146.0 798.6 148.0 800.7 L 154.2 805.2" stroke-width="1.87" />
<path d="M 176.8 766.0 C 168.6 767.7 161.1 775.3 156.3 784.9 C 152.8 792.4 151.9 800.0 154.2 805.2 L 160.4 815.1" stroke-width="1.75" />
<path d="M 181.6 766.0 C 172.7 768.4 165.2 776.0 160.4 786.3 C 156.3 795.9 156.0 805.5 159.0 812.3" stroke-width="1.75" />
<path d="M 185.8 766.8 C 176.8 769.8 170.0 776.7 165.2 786.3 C 161.1 795.9 160.4 806.8 163.1 815.8" stroke-width="1.75" />
<path d="M 1033.9 500.3 L 1083.7 472.0 L 1084.5 501.2 L 1052.7 537.3 L 1033.0 599.1 L 1021.8 631.7 C 1020.6 635.1 1018.9 637.7 1015.8 639.4 L 966.9 666.9 C 963.5 668.8 961.8 669.8 959.2 669.8 C 956.6 669.8 954.0 668.1 953.2 666.0 L 953.2 621.4 L 980.6 578.5 L 986.7 570.7 L 1016.7 539.8 Z" stroke-width="1.87" />
<path d="M 1033.9 500.3 L 1032.1 499.1 L 1014.1 528.7 L 983.2 561.3 L 977.2 569.9 L 946.3 617.9 L 953.2 621.4" stroke-width="1.64" />
<path d="M 1032.1 498.8 L 1081.1 471.2 L 1083.7 472.0" stroke-width="1.64" />
<path d="M 946.3 617.9 L 945.5 659.1 C 945.8 662.6 947.2 665.2 949.7 666.9 C 952.3 668.8 955.8 669.8 959.2 669.8" stroke-width="1.87" />
<path d="M 1026.1 533.8 L 1073.4 506.4 M 991.8 574.2 L 1043.3 543.8" stroke-width="1.87" />
<ellipse cx="1025.6" cy="588.8" rx="4.1" ry="6.5" transform="rotate(28 1025.6 588.8)" stroke-width="1.75" />
<ellipse cx="982.4" cy="613.7" rx="4.1" ry="6.5" transform="rotate(28 982.4 613.7)" stroke-width="1.75" />
<ellipse cx="1012.1" cy="626.5" rx="4.1" ry="6.5" transform="rotate(28 1012.1 626.5)" stroke-width="1.75" />
<ellipse cx="965.7" cy="654.0" rx="4.1" ry="6.5" transform="rotate(28 965.7 654.0)" stroke-width="1.75" />
<path d="M930 634.1 L945.4 641.8" stroke-width="1.0" />
<path d="M 1002.5 684.3 L 1005.9 674.9 L 1015.4 668.5 L 1023.1 669.7 L 1031.7 675.8 L 1032.7 686.1 L 1029.1 693.8 L 1021.4 699.8 L 1015.4 699.8 L 1003.4 692.1 Z" stroke-width="1.75" />
<path d="M 1005.9 674.9 L 1017.1 678.8 M 1003.4 692.1 L 1013.7 695.0 M 1002.5 684.3 L 1013.3 687.4 L 1013.8 699.8" stroke-width="1.2" />
<ellipse cx="1023.1" cy="685.2" rx="7.6" ry="12.7" transform="rotate(22 1023.1 685.2)" stroke-width="1.75" />
<ellipse cx="1023.1" cy="686.1" rx="3.6" ry="6.4" transform="rotate(22 1023.1 686.1)" stroke-width="1.64" />
<ellipse cx="878.9" cy="764.7" rx="3.1" ry="6.5" transform="rotate(28 878.9 764.7)" stroke-width="1.64" />
<path d="M 883.2 758.2 L 918.4 777.0" stroke-width="1.75" />
<path d="M 875.5 771.0 L 908.9 789.9" stroke-width="1.75" />
<path d="M 888.8 761.2 C 884.4 764.2 883.7 768.1 884.9 771.5" stroke-width="1.64" />
<path d="M 896.6 765.2 C 892.1 768.1 891.4 772.1 892.6 775.5" stroke-width="1.64" />
<path d="M 904.3 769.3 C 899.8 772.2 899.1 776.2 900.3 779.6" stroke-width="1.64" />
<path d="M 917.5 777.0 L 921.8 773.6 L 927.8 775.3 C 932.1 776.2 938.1 782.2 938.6 789.1 C 938.1 798.5 928.7 804.5 919.2 804.5 L 908.1 795.9 L 908.9 789.9" stroke-width="1.75" />
<path d="M 919.2 804.5 C 917.5 799.4 917.5 787.3 919.2 782.2 L 927.8 775.3 M 908.9 789.9 L 917.5 793.4 M 913.2 780.1 L 919.2 782.2" stroke-width="1.52" />
<path d="M860 752.9 L876.3 762.3" stroke-width="1.0" />
<path d="M608.5 133 L639.4 150.8 L639.4 466 L807 561.4" stroke-width="1.0" />
<path d="M807 561.4 L862 592" stroke-width="1.0" stroke-dasharray="14 5"/>
<path d="M600 441 L463 523 L880 765" stroke-width="1.0" />
<line x1="601.0" y1="30.0" x2="592.0" y2="114.0" stroke-width="1.75" />
<line x1="929.0" y1="108.5" x2="924.0" y2="174.0" stroke-width="1.75" />
<line x1="1040.5" y1="166.5" x2="973.0" y2="265.0" stroke-width="1.1" />
<line x1="825.0" y1="265.0" x2="825.0" y2="341.5" stroke-width="1.75" />
<line x1="910.5" y1="314.0" x2="827.6" y2="428.2" stroke-width="1.1" />
<line x1="431.0" y1="202.5" x2="481.0" y2="223.5" stroke-width="1.75" />
<line x1="402.5" y1="255.0" x2="410.0" y2="316.0" stroke-width="1.75" />
<line x1="86.0" y1="304.0" x2="79.0" y2="372.5" stroke-width="1.75" />
<line x1="142.0" y1="340.0" x2="122.5" y2="392.5" stroke-width="1.75" />
<line x1="204.0" y1="372.5" x2="172.0" y2="424.0" stroke-width="1.1" />
<line x1="279.0" y1="412.0" x2="263.0" y2="443.0" stroke-width="1.1" />
<line x1="378.0" y1="390.0" x2="419.2" y2="488.0" stroke-width="1.75" />
<line x1="1099.3" y1="573.5" x2="1035.5" y2="598.0" stroke-width="1.75" />
<line x1="1099.3" y1="662.2" x2="1031.7" y2="676.4" stroke-width="1.75" />
<line x1="919.0" y1="723.5" x2="904.3" y2="771.6" stroke-width="1.75" />
<line x1="162.4" y1="815.8" x2="134.3" y2="857.6" stroke-width="1.75" />
<line x1="663.0" y1="703.0" x2="846.3" y2="883.0" stroke-width="1.75" />
<line x1="704.5" y1="870.0" x2="720.5" y2="956.0" stroke-width="1.75" />
<circle cx="419.2" cy="488" r="3.3" fill="#000" stroke="none"/>
<circle cx="827.6" cy="428.2" r="3.3" fill="#000" stroke="none"/>
<circle cx="663" cy="703" r="3.3" fill="#000" stroke="none"/>
<text x="136" y="670.5" font-size="132" font-weight="bold" fill="none" stroke="#8a8a8a" stroke-width="1.2" textLength="896.5" lengthAdjust="spacingAndGlyphs">ansat-parts.ru</text>
<path d="M479.0 665.2 L472.5 662.2 L471.5 652.1 L476.6 641.0 L485.0 635.4 L491.5 638.4" stroke-width="1.1" />
<path d="M471.6 661.6 L471.0 653.3 L475.4 643.9 L482.2 639.0" stroke-width="1.0" />
<path d="M473.4 825.4 L467.7 822.8 L466.7 814.2 L471.0 804.9 L478.2 800.2 L483.9 802.8" stroke-width="1.1" />
<path d="M467.3 822.0 L466.7 815.2 L470.3 807.5 L475.9 803.6" stroke-width="1.0" />
<path d="M358.7 758.7 L353.1 756.1 L352.2 747.9 L356.4 738.9 L363.3 734.3 L368.9 736.9" stroke-width="1.1" />
<path d="M352.8 755.3 L352.3 748.8 L355.7 741.5 L361.0 737.7" stroke-width="1.0" />
</svg>
</body></html>
